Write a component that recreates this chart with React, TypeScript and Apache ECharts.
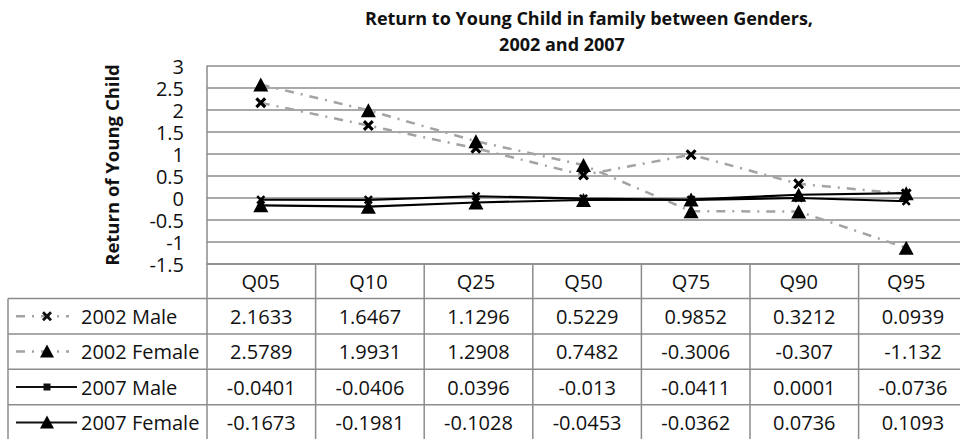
import React, { useEffect, useRef } from "react";
import * as echarts from "echarts";

const categories = ["Q05", "Q10", "Q25", "Q50", "Q75", "Q90", "Q95"];
const seriesNames = ["2002 Male", "2002 Female", "2007 Male", "2007 Female"];
const male2002 = [2.1633, 1.6467, 1.1296, 0.5229, 0.9852, 0.3212, 0.0939];
const female2002 = [2.5789, 1.9931, 1.2908, 0.7482, -0.3006, -0.307, -1.132];
const male2007 = [-0.0401, -0.0406, 0.0396, -0.013, -0.0411, 0.0001, -0.0736];
const female2007 = [-0.1673, -0.1981, -0.1028, -0.0453, -0.0362, 0.0736, 0.1093];
const titleLines = ["Return to Young Child in family between Genders,", "2002 and 2007"];
const yAxisTitle = "Return of Young Child";
const yMin = -1.5;
const yMax = 3;
const yStep = 0.5;

const W = 960;
const H = 439;
const FONT = "'Open Sans', 'DejaVu Sans', sans-serif";
const GRID_LEFT = 207;
const GRID_TOP = 66;
const GRID_H = 198;
const COL_W = 108.6;
const TABLE_LEFT = 8;
const ROW_H = 35.4;
const HEADER_BOTTOM = 298.5;
const GRID_COLOR = "#8c8c8c";
const DASH_GRAY = "#a3a3a3";

const X_PATH = "path://M0,2L2,0L5,3L8,0L10,2L7,5L10,8L8,10L5,7L2,10L0,8L3,5Z";

export default function App() {
  const ref = useRef<HTMLDivElement>(null);

  useEffect(() => {
    if (!ref.current) return;
    const chart = echarts.init(ref.current, null, { renderer: "svg" });
    const allSeries = [male2002, female2002, male2007, female2007];
    const gridBottomY = GRID_TOP + GRID_H;
    const gridW = COL_W * categories.length;

    const graphics: any[] = [];
    // titles
    graphics.push({
      type: "text",
      x: 589,
      y: 18,
      style: { text: titleLines[0], font: `bold 18px ${FONT}`, fill: "#111", textAlign: "center", textVerticalAlign: "middle" },
    });
    graphics.push({
      type: "text",
      x: 562,
      y: 44,
      style: { text: titleLines[1], font: `bold 18px ${FONT}`, fill: "#111", textAlign: "center", textVerticalAlign: "middle" },
    });

    const lineStyle = { stroke: GRID_COLOR, lineWidth: 1.5 };
    // table horizontal lines
    graphics.push({ type: "line", shape: { x1: GRID_LEFT, y1: gridBottomY, x2: W, y2: gridBottomY }, style: lineStyle });
    for (let r = 0; r < seriesNames.length; r++) {
      const y = HEADER_BOTTOM + r * ROW_H;
      graphics.push({ type: "line", shape: { x1: TABLE_LEFT, y1: y, x2: W, y2: y }, style: lineStyle });
    }
    // verticals
    graphics.push({ type: "line", shape: { x1: TABLE_LEFT, y1: HEADER_BOTTOM, x2: TABLE_LEFT, y2: H }, style: lineStyle });
    for (let c = 0; c <= categories.length; c++) {
      const x = GRID_LEFT + c * COL_W;
      graphics.push({ type: "line", shape: { x1: x, y1: gridBottomY, x2: x, y2: H }, style: lineStyle });
    }
    // cell values and legend
    for (let r = 0; r < seriesNames.length; r++) {
      const cy = HEADER_BOTTOM + r * ROW_H + ROW_H / 2;
      const vals = allSeries[r];
      for (let c = 0; c < categories.length; c++) {
        graphics.push({
          type: "text",
          x: GRID_LEFT + c * COL_W + COL_W / 2,
          y: cy,
          style: { text: String(vals[c]), font: `20px ${FONT}`, fill: "#111", textAlign: "center", textVerticalAlign: "middle" },
        });
      }
      graphics.push({
        type: "text",
        x: 81,
        y: cy,
        style: { text: seriesNames[r], font: `20px ${FONT}`, fill: "#111", textAlign: "left", textVerticalAlign: "middle" },
      });
      const is2002 = r < 2;
      if (is2002) {
        graphics.push({
          type: "line",
          shape: { x1: 16, y1: cy, x2: 69, y2: cy },
          style: { stroke: DASH_GRAY, lineWidth: 2.5, lineDash: [9, 7, 2, 7] },
        });
      } else {
        graphics.push({
          type: "line",
          shape: { x1: 16, y1: cy, x2: 77, y2: cy },
          style: { stroke: "#111", lineWidth: 2 },
        });
      }
      const mx = 47;
      if (r === 0) {
        const s = 1.0;
        const pts = [[0, 2], [2, 0], [5, 3], [8, 0], [10, 2], [7, 5], [10, 8], [8, 10], [5, 7], [2, 10], [0, 8], [3, 5]].map(
          ([px, py]) => [mx - 5 * s + px * s, cy - 5 * s + py * s]
        );
        graphics.push({ type: "polygon", shape: { points: pts }, style: { fill: "#111" } });
      } else if (r === 2) {
        graphics.push({ type: "rect", shape: { x: mx - 3.5, y: cy - 3.5, width: 7, height: 7 }, style: { fill: "#111" } });
      } else {
        graphics.push({
          type: "polygon",
          shape: { points: [[mx, cy - 7], [mx + 7, cy + 6], [mx - 7, cy + 6]] },
          style: { fill: "#000" },
        });
      }
    }

    const dashType: any = [9, 7, 2, 7];
    const mk = (name: string, data: number[], idx: number) => {
      const is2002 = idx < 2;
      const isTri = idx % 2 === 1;
      return {
        name,
        type: "line",
        data,
        z: 3 + idx,
        symbol: isTri ? "triangle" : X_PATH,
        symbolSize: isTri ? [15, 14] : is2002 ? 11 : 9,
        showSymbol: true,
        itemStyle: { color: "#000" },
        lineStyle: is2002
          ? { color: DASH_GRAY, width: 2.5, type: dashType }
          : { color: "#000", width: 2.2, type: "solid" },
        emphasis: { disabled: true },
      };
    };

    chart.setOption({
      animation: false,
      backgroundColor: "#fff",
      grid: { left: GRID_LEFT, top: GRID_TOP, width: gridW, height: GRID_H, containLabel: false },
      xAxis: {
        type: "category",
        data: categories,
        boundaryGap: true,
        axisLine: { show: false },
        axisTick: { show: false },
        splitLine: { show: false },
        axisLabel: { color: "#111", fontSize: 20, fontFamily: FONT, margin: 7, lineHeight: 20 },
      },
      yAxis: {
        type: "value",
        min: yMin,
        max: yMax,
        interval: yStep,
        name: yAxisTitle,
        nameLocation: "middle",
        nameRotate: 90,
        nameGap: 86,
        nameTextStyle: { color: "#111", fontSize: 18.5, fontWeight: "bold", fontFamily: FONT },
        axisLine: { show: true, lineStyle: { color: GRID_COLOR, width: 1.5 } },
        axisTick: { show: false },
        axisLabel: { color: "#111", fontSize: 20, fontFamily: FONT, margin: 23, lineHeight: 20, formatter: (v: number) => String(v) },
        splitLine: { show: true, lineStyle: { color: GRID_COLOR, width: 1.5 } },
      },
      series: [
        mk(seriesNames[0], male2002, 0),
        mk(seriesNames[1], female2002, 1),
        mk(seriesNames[2], male2007, 2),
        mk(seriesNames[3], female2007, 3),
      ],
      graphic: graphics,
    });

    return () => chart.dispose();
  }, []);

  return (
    <div
      ref={ref}
      style={{ position: "absolute", left: 0, top: 0, width: W, height: H, background: "#fff" }}
    />
  );
}
